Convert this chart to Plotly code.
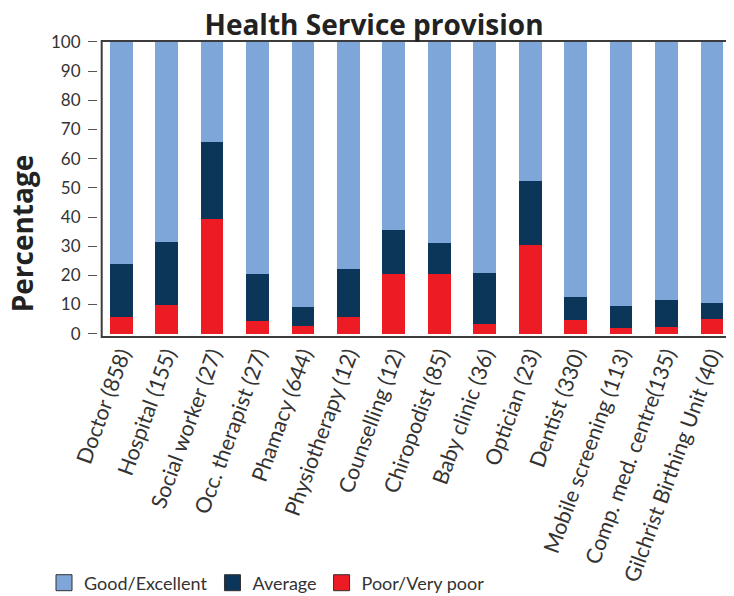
import plotly.graph_objects as go

categories = ["Doctor (858)", "Hospital (155)", "Social worker (27)", "Occ. therapist (27)",
              "Phamacy (644)", "Physiotherapy (12)", "Counselling (12)", "Chiropodist (85)",
              "Baby clinic (36)", "Optician (23)", "Dentist (330)", "Mobile screening (113)",
              "Comp. med. centre(135)", "Gilchrist Birthing Unit (40)"]
poor = [5.6, 9.9, 39.3, 4.4, 2.7, 5.8, 20.5, 20.5, 3.4, 30.4, 4.8, 2.1, 2.4, 5.1]
average = [18.3, 21.6, 26.4, 16.1, 6.5, 16.4, 15.1, 10.6, 17.5, 21.9, 7.9, 7.5, 9.2, 5.5]
good = [round(100 - p - a, 1) for p, a in zip(poor, average)]
y_ticks = [0, 10, 20, 30, 40, 50, 60, 70, 80, 90, 100]

series = [("Poor/Very poor", poor, "#ED1C24"),
          ("Average", average, "#0B3659"),
          ("Good/Excellent", good, "#7EA6D8")]

FONT = "Lato"
BOLD = "Open Sans"
W, H = 726, 588  # page has an 8px body margin
fig = go.Figure()
for name, vals, col in series:
    fig.add_trace(go.Bar(x=categories, y=vals, name=name, marker=dict(color=col, line=dict(width=0)),
                         showlegend=False))
# legend entries
for name, vals, col in series:
    fig.add_trace(go.Scatter(x=[None], y=[None], mode="markers", name=name,
                             marker=dict(symbol="square", size=16, color=col,
                                         line=dict(color="#333333", width=1))))

d = 4.7 / 634
fig.update_layout(
    width=W, height=H,
    margin=dict(l=89, r=3, t=33, b=259, autoexpand=False),
    barmode="stack", bargap=0.5,
    plot_bgcolor="white", paper_bgcolor="white",
    font=dict(family=FONT, color="#333333"),
    title=dict(text="<b>Health Service provision</b>", x=366/W, xref="container", xanchor="center",
               y=1 - 17/H, yanchor="middle", font=dict(size=28, color="#222222", family=BOLD)),
    xaxis=dict(domain=[d, 1], range=[-0.43, 13.42], showline=False, showgrid=False, ticks="",
               tickangle=-70, tickfont=dict(size=21.5, color="#333333"), automargin=False),
    yaxis=dict(range=[-1.13, 100.34], tickvals=y_ticks, showline=False, showgrid=False,
               zeroline=False, anchor="free", position=0, ticks="outside", ticklen=9, tickwidth=1,
               tickcolor="#555555", tickfont=dict(size=17, color="#333333"),
               ticklabelstandoff=4, automargin=False),
    legend=dict(orientation="h", xref="container", yref="container", x=36/W, xanchor="left",
                y=1 - 575/H, yanchor="middle",
                traceorder="reversed", font=dict(size=18, color="#333333"), itemclick=False),
    shapes=[dict(type="rect", xref="paper", yref="paper", x0=d, x1=1, y0=0, y1=1,
                 line=dict(color="#3c3c3c", width=2), fillcolor="rgba(0,0,0,0)")],
    annotations=[dict(text="<b>Percentage</b>", textangle=-90, xref="paper", yref="paper",
                      x=(19.5 - 93.7) / 629.3, y=0.351, xanchor="center", yanchor="middle",
                      showarrow=False, font=dict(size=28, color="#222222", family=BOLD))],
)
fig.write_html("out.html")
